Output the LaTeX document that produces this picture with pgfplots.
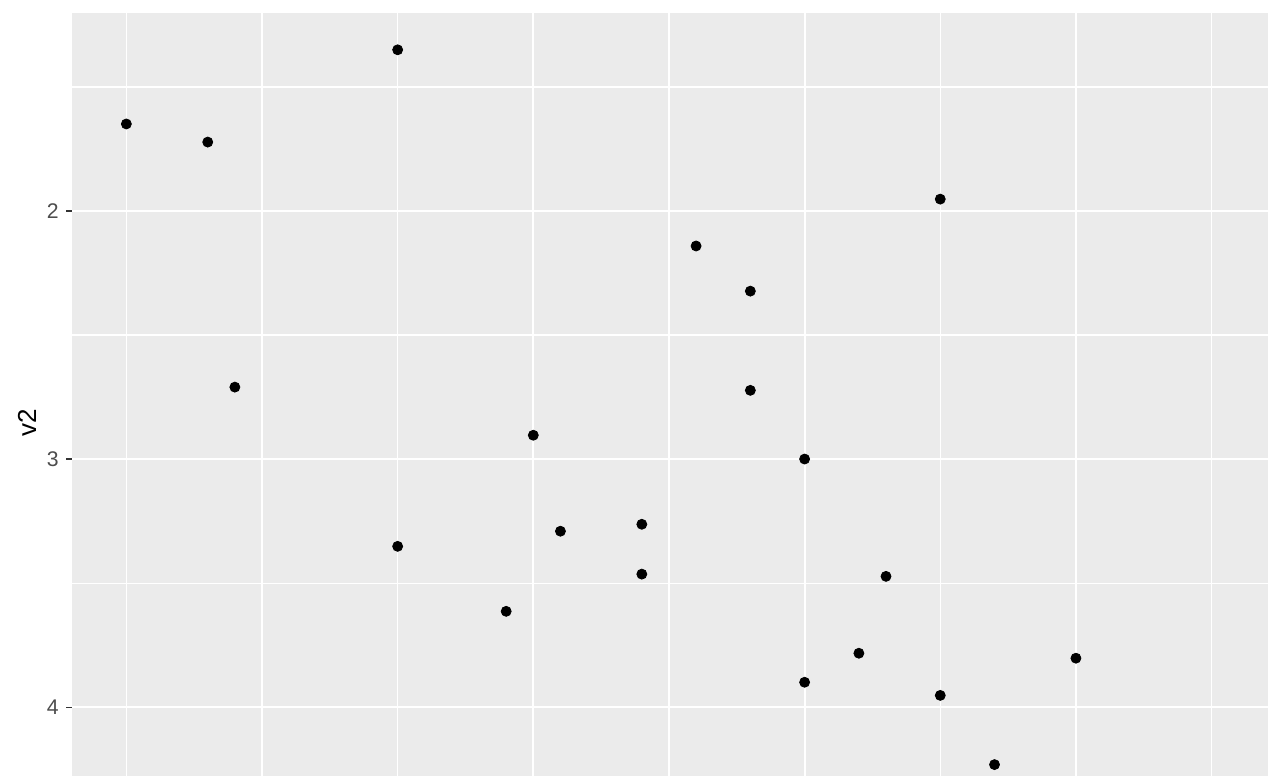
\documentclass[border=0pt]{standalone}
\usepackage{fontspec}
\setmainfont{Liberation Sans}
\usepackage{pgfplots}
\pgfplotsset{compat=1.18}

\definecolor{panel}{HTML}{EBEBEB}
\definecolor{ticktext}{HTML}{4D4D4D}
\definecolor{tickmark}{HTML}{333333}

\begin{document}
\begin{tikzpicture}
\useasboundingbox (0,0) rectangle (640pt,388pt);
\begin{axis}[
    at={(36pt,0pt)}, anchor=south west,
    scale only axis,
    width=598pt, height=381.5pt,
    xmin=0.2997, xmax=4.708,
    ymin=1.2016, ymax=4.278,
    y dir=reverse,
    axis line style={draw=none},
    axis background/.style={fill=panel},
    xtick={1,2,3,4},
    minor xtick={0.5,1.5,2.5,3.5,4.5},
    xticklabels={},
    ytick={2,3,4},
    minor ytick={1.5,2.5,3.5},
    yticklabel style={font=\fontsize{10.6pt}{11pt}\selectfont, text=ticktext, inner sep=3.5pt},
    /pgf/number format/assume math mode=true,
    ytick pos=left,
    tick align=outside,
    major tick length=3pt,
    minor tick length=0pt,
    xtick style={draw=none},
    ytick style={draw=tickmark, line width=0.55pt},
    grid=both,
    major grid style={white, line width=1.1pt},
    minor grid style={white, line width=0.55pt},
    ylabel={v2},
    every axis y label/.style={at={(axis description cs:-0.0376,0.4626)}, rotate=90, anchor=center, font=\fontsize{13pt}{14pt}\selectfont},
]
\addplot[only marks, mark=*, mark size=2.5pt, black] coordinates {
(0.5,1.649) (0.8,1.722) (0.9,2.710)
(1.5,1.350) (1.5,3.352) (1.9,3.614)
(2.0,2.904) (2.1,3.291) (2.4,3.263) (2.4,3.464)
(2.6,2.141) (2.8,2.323) (2.8,2.723)
(3.0,3.000) (3.0,3.900) (3.2,3.783) (3.3,3.473)
(3.5,1.952) (3.5,3.953) (3.7,4.232) (4.0,3.803)
};
\end{axis}
\end{tikzpicture}
\end{document}
